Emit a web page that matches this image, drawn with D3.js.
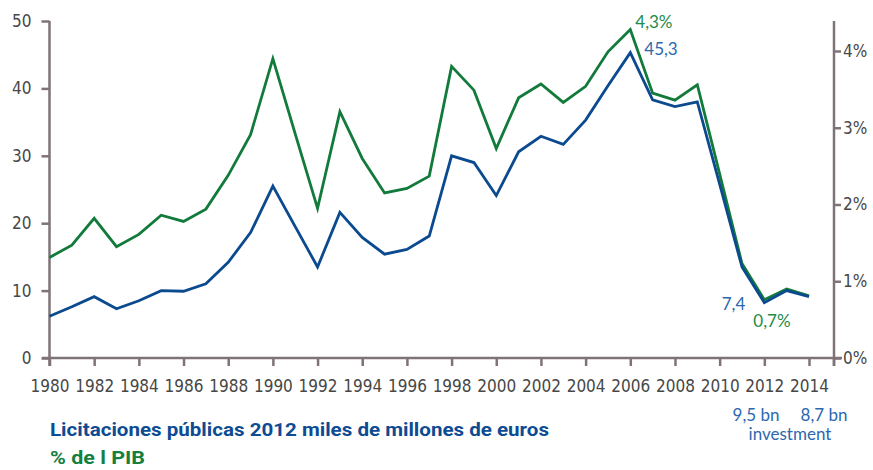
<!DOCTYPE html>
<html>
<head>
<meta charset="utf-8">
<script src="https://cdn.jsdelivr.net/npm/d3@7/dist/d3.min.js"></script>
<style>
body { margin: 0; background: #fff; }
.tick text { font-family: "Liberation Sans Narrow", "DejaVu Sans Condensed", "Roboto", sans-serif; font-size: 17px; fill: #474747; }
.ann { font-family: "Lato", "Open Sans", sans-serif; font-size: 17px; }
.legend { font-family: "Liberation Sans Narrow", "Roboto", sans-serif; font-weight: bold; font-size: 18.5px; }
</style>
</head>
<body>
<script>
// years on the x axis
const years = [1980,1981,1982,1983,1984,1985,1986,1987,1988,1989,
               1990,1991,1992,1993,1994,1995,1996,1997,1998,1999,
               2000,2001,2002,2003,2004,2005,2006,2007,2008,2009,
               2010,2011,2012,2013,2014]

// public tenders, billions of euros (2012) - left axis
const tenders = [6.2,7.6,9.1,7.3,8.5,10.0,9.9,11.0,14.2,18.6,
                 25.5,19.5,13.5,21.6,17.9,15.4,16.1,18.1,30.0,29.0,
                 24.1,30.6,32.9,31.7,35.3,40.4,45.3,38.3,37.3,38.0,
                 25.8,13.5,8.2,10.0,9.1]

// % of GDP - right axis
const gdpShare = [1.31,1.47,1.82,1.45,1.61,1.86,1.78,1.94,2.38,2.91,
                  3.90,2.92,1.95,3.21,2.60,2.15,2.21,2.37,3.80,3.49,
                  2.73,3.39,3.57,3.33,3.54,3.99,4.28,3.45,3.36,3.56,
                  2.40,1.23,0.76,0.90,0.81]

const xTicks = [1980,1982,1984,1986,1988,1990,1992,1994,1996,1998,2000,2002,2004,2006,2008,2010,2012,2014]
const leftTicks = [0,10,20,30,40,50]
const rightTicks = [0,1,2,3,4]

const blue = "#0b4a8f"
const green = "#127a3a"
const axisColor = "#7f7377"

const svg = d3.select("body").append("svg")
    .attr("width", 873)
    .attr("height", 470)

const x = d3.scaleLinear().domain([1980, 2014]).range([49.5, 809])
const yL = d3.scaleLinear().domain([0, 50]).range([358, 21])
const yR = d3.scaleLinear().domain([0, 4]).range([358, 51])
const rightX = 834

// axes
const bottom = svg.append("g")
    .attr("transform", "translate(0,358)")
    .call(d3.axisBottom(x).tickValues(xTicks).tickSize(8).tickPadding(14).tickFormat(d3.format("d")))
bottom.select(".domain").remove()
bottom.append("line").attr("x1", 42).attr("x2", 842).attr("y1", 0).attr("y2", 0)
bottom.append("line").attr("x1", rightX).attr("x2", rightX).attr("y1", 0).attr("y2", 8)

const left = svg.append("g")
    .attr("transform", "translate(49.5,0)")
    .call(d3.axisLeft(yL).tickValues(leftTicks).tickSize(8).tickPadding(10))
left.select(".domain").remove()
left.append("line").attr("x1", 0).attr("x2", 0).attr("y1", yL(50)).attr("y2", 366)

const right = svg.append("g")
    .attr("transform", `translate(${rightX},0)`)
    .call(d3.axisRight(yR).tickValues(rightTicks).tickSize(7).tickPadding(2).tickFormat(d => d + "%"))
right.select(".domain").remove()
right.append("line").attr("x1", 0).attr("x2", 0).attr("y1", yL(50)).attr("y2", 366)

svg.selectAll(".tick line, g > line")
    .attr("stroke", axisColor)
    .attr("stroke-width", 2.5)

// lines
const rows = years.map((yr, i) => ({year: yr, tenders: tenders[i], gdp: gdpShare[i]}))

svg.append("path")
    .datum(rows)
    .attr("fill", "none")
    .attr("stroke", green)
    .attr("stroke-width", 2.8)
    .attr("stroke-linejoin", "miter")
    .attr("d", d3.line().x(d => x(d.year)).y(d => yR(d.gdp)))

svg.append("path")
    .datum(rows)
    .attr("fill", "none")
    .attr("stroke", blue)
    .attr("stroke-width", 2.8)
    .attr("stroke-linejoin", "miter")
    .attr("d", d3.line().x(d => x(d.year)).y(d => yL(d.tenders)))

// annotations
const peak = rows[years.indexOf(2006)]

svg.append("text").attr("class", "ann").attr("fill", "#1e8b48")
    .attr("x", x(2006) + 5).attr("y", yR(peak.gdp) - 2).text("4,3%")
svg.append("text").attr("class", "ann").attr("fill", "#2b68ad")
    .attr("x", x(2006) + 14).attr("y", yL(peak.tenders) + 2).text("45,3")
svg.append("text").attr("class", "ann").attr("fill", "#2b68ad")
    .attr("text-anchor", "end")
    .attr("x", x(2012) - 19).attr("y", 310).text("7,4")
svg.append("text").attr("class", "ann").attr("fill", "#1e8b48")
    .attr("x", x(2012) - 11).attr("y", 327).text("0,7%")

svg.append("text").attr("class", "ann").attr("fill", "#2b68ad")
    .attr("text-anchor", "middle").attr("x", 756).attr("y", 421).text("9,5 bn")
svg.append("text").attr("class", "ann").attr("fill", "#2b68ad")
    .attr("text-anchor", "middle").attr("x", 824).attr("y", 421).text("8,7 bn")
svg.append("text").attr("class", "ann").attr("fill", "#2b68ad")
    .attr("text-anchor", "middle").attr("x", 790).attr("y", 440).text("investment")

// legend
svg.append("text").attr("class", "legend").attr("fill", "#0d4b92")
    .attr("x", 50).attr("y", 436)
    .attr("textLength", 499).attr("lengthAdjust", "spacingAndGlyphs")
    .text("Licitaciones públicas 2012 miles de millones de euros")
svg.append("text").attr("class", "legend").attr("fill", "#157f3f")
    .attr("x", 50).attr("y", 464)
    .attr("textLength", 95).attr("lengthAdjust", "spacingAndGlyphs")
    .text("% de l PIB")
</script>
</body>
</html>
